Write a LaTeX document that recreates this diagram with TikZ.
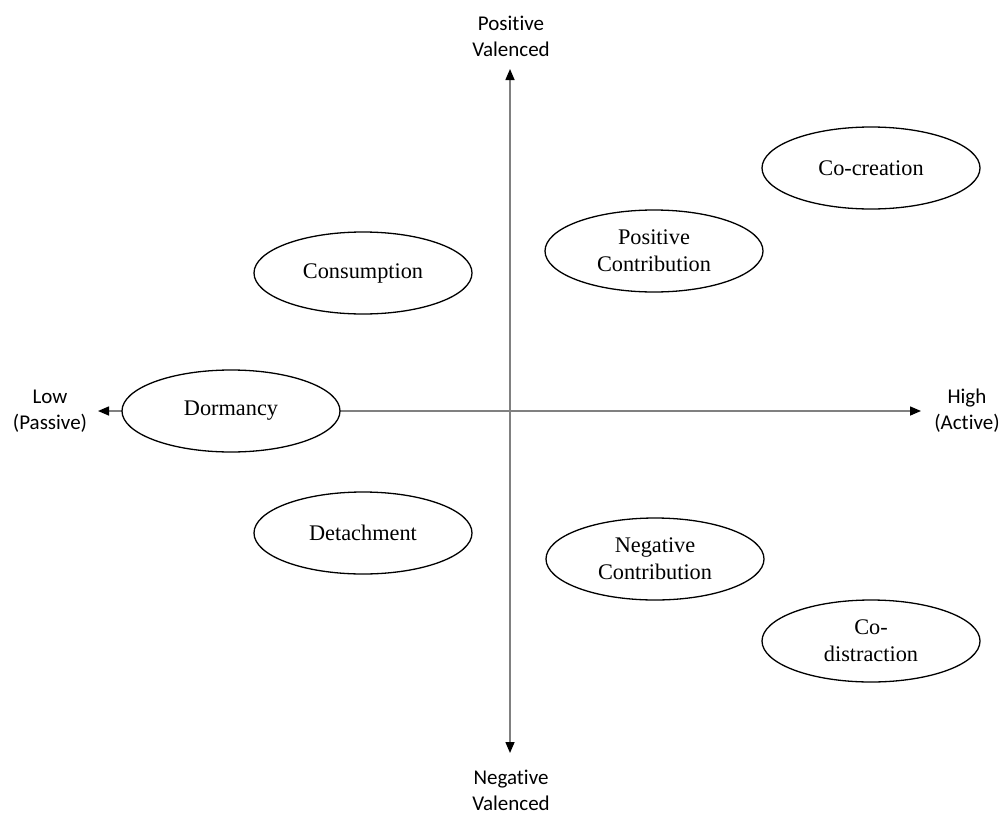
\documentclass[tikz,border=0pt]{standalone}
\usepackage{fontspec}
\setmainfont{Liberation Serif}
\newfontfamily\axfont[Ligatures=NoCommon]{Carlito}
\usetikzlibrary{shapes.geometric,arrows.meta}
\definecolor{axgray}{HTML}{808080}
\begin{document}
\begin{tikzpicture}[x=1pt,y=-1pt,
  oval/.style={ellipse,draw=black,line width=1.3pt,fill=white,minimum width=218pt,minimum height=82pt,inner sep=0pt,align=center,font=\fontsize{22.3}{27}\selectfont},
  axlabel/.style={align=center,font=\axfont\fontsize{21}{26}\selectfont,inner sep=0pt},
  axis/.style={draw=axgray,line width=1.5pt,-{Triangle[length=11pt,width=9pt,color=black]}}]
\useasboundingbox (0,0) rectangle (1003,816);
\coordinate (o) at (510,411);
\coordinate (l) at (98,411);
\coordinate (r) at (921,411);
\coordinate (t) at (510,69);
\coordinate (b) at (510,753);
\draw[axis] (o) -- (l);
\draw[axis] (o) -- (r);
\draw[axis] (o) -- (t);
\draw[axis] (o) -- (b);
\node[axlabel] (low) at (50,411) {Low\\(Passive)};
\node[axlabel] (high) at (967,411) {High\\(Active)};
\node[axlabel] (pos) at (511,36) {Positive\\Valenced};
\node[axlabel] (neg) at (511,790) {Negative\\Valenced};
\node[oval] (cocr) at (871,168) {Co-creation};
\node[oval] (pc) at (654,251) {Positive\\Contribution};
\node[oval] (cons) at (363,273) {Consumption};
\node[oval] (dorm) at (231,411) {Dormancy};
\node[oval] (det) at (363,533) {Detachment};
\node[oval] (nc) at (655,559) {Negative\\Contribution};
\node[oval] (codis) at (871,641) {Co-\\distraction};
\end{tikzpicture}
\end{document}
